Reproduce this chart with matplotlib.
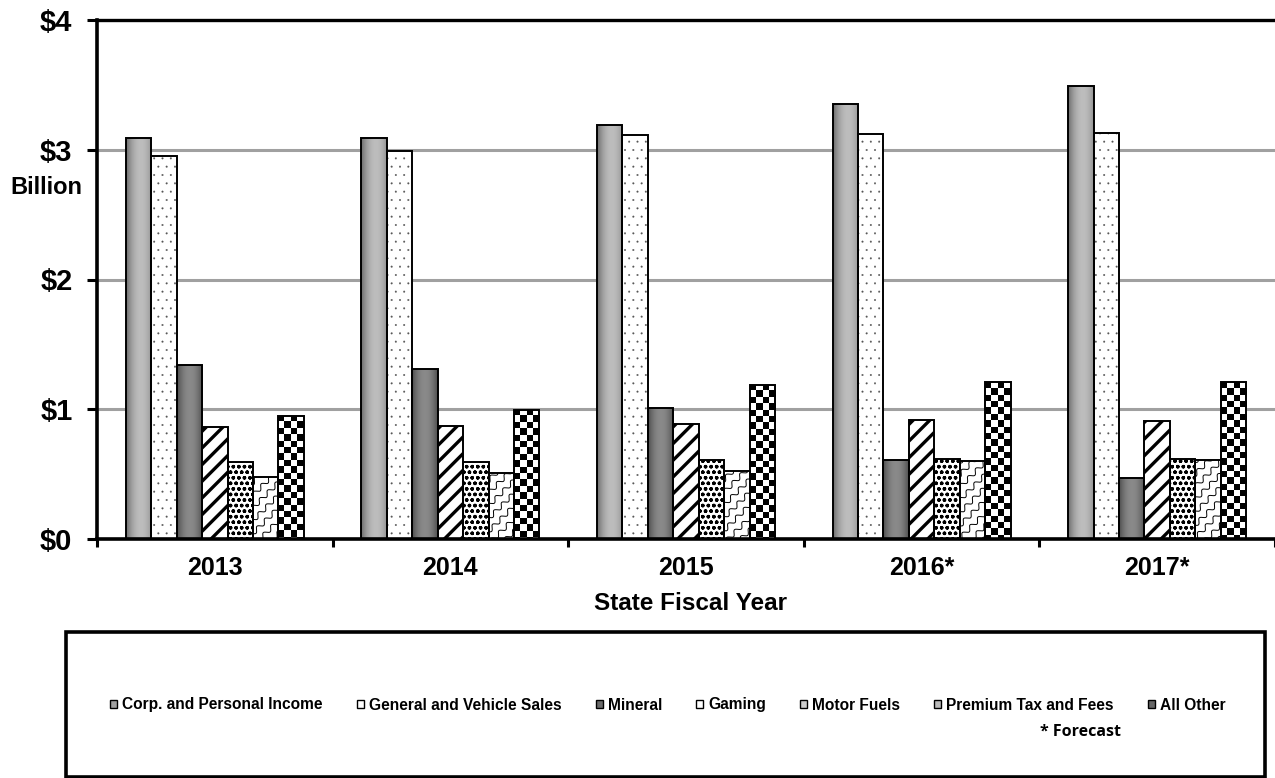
import numpy as np
import matplotlib
matplotlib.use('Agg')
import matplotlib.pyplot as plt
from matplotlib.patches import Patch, Rectangle

# ---------------- data ----------------
years = ['2013', '2014', '2015', '2016*', '2017*']
series_names = ['Corp. and Personal Income', 'General and Vehicle Sales', 'Mineral',
                'Gaming', 'Motor Fuels', 'Premium Tax and Fees', 'All Other']
corp = [3.09, 3.09, 3.19, 3.35, 3.49]
sales = [2.95, 2.99, 3.11, 3.12, 3.13]
mineral = [1.34, 1.31, 1.01, 0.61, 0.47]
gaming = [0.86, 0.87, 0.89, 0.92, 0.91]
motor = [0.595, 0.595, 0.61, 0.62, 0.62]
premium = [0.48, 0.51, 0.525, 0.60, 0.61]
other = [0.95, 0.995, 1.19, 1.21, 1.21]
ytick_vals = [0, 1, 2, 3, 4]
ytick_labels = ['\\$0', '\\$1', '\\$2', '\\$3', '\\$4']
y_unit = 'Billion'
x_title = 'State Fiscal Year'
note = '* Forecast'

series_vals = [corp, sales, mineral, gaming, motor, premium, other]

plt.rcParams['font.family'] = ['Liberation Sans', 'DejaVu Sans']
plt.rcParams['font.weight'] = 'bold'
plt.rcParams['hatch.linewidth'] = 2.4

W, H = 1275, 778
fig = plt.figure(figsize=(W / 100, H / 100), dpi=100)
ax_l, ax_r, ax_t, ax_b = 97, 1275, 20, 539
ax = fig.add_axes([ax_l / W, 1 - ax_b / H, (ax_r - ax_l) / W, (ax_b - ax_t) / H])
XPX = (ax_r - ax_l) / 5.0
YPX = (ax_b - ax_t) / 4.0

x = np.arange(len(years))
bw = 0.108
n = len(series_vals)


def grad_row(lo, hi, peak):
    t = np.linspace(0, 1, 80)
    span = max(peak, 1 - peak)
    return (hi - (hi - lo) * ((t - peak) / span) ** 2)[None, :]


def outline(xs, vals):
    ax.bar(xs, vals, bw, facecolor='none', edgecolor='black', linewidth=1.4, zorder=6)


for i, vals in enumerate(series_vals):
    xs = x + (i - (n - 1) / 2) * bw
    if i in (0, 2):
        bars = ax.bar(xs, vals, bw, facecolor='#999999', edgecolor='none', zorder=3)
        lo, hi, pk = (0.42, 0.74, 0.58) if i == 0 else (0.30, 0.54, 0.5)
        for b in bars:
            x0 = b.get_x(); h = b.get_height()
            im = ax.imshow(grad_row(lo, hi, pk), extent=[x0, x0 + bw, 0, h], cmap='gray',
                           vmin=0, vmax=1, aspect='auto', interpolation='bilinear', zorder=4)
            im.set_clip_path(b)
    elif i == 1:
        bars = ax.bar(xs, vals, bw, facecolor='white', edgecolor='#555555', linewidth=0,
                      hatch='..', zorder=3)
        for b in bars:
            if hasattr(b, 'set_hatch_linewidth'):
                b.set_hatch_linewidth(0.2)
    elif i == 3:
        bars = ax.bar(xs, vals, bw, facecolor='white', edgecolor='black', linewidth=0,
                      hatch='//', zorder=3)
    elif i == 4:
        bars = ax.bar(xs, vals, bw, facecolor='white', edgecolor='black', linewidth=0,
                      hatch='ooo', zorder=3)
        for b in bars:
            if hasattr(b, 'set_hatch_linewidth'):
                b.set_hatch_linewidth(1.0)
    elif i == 5:
        bars = ax.bar(xs, vals, bw, facecolor='white', edgecolor='none', zorder=3)
        for b in bars:
            x0 = b.get_x(); h = b.get_height()
            cxp = (x0 + bw / 2) * XPX
            cyp = h / 2 * YPX
            L = (bw * XPX + h * YPX)
            u = np.array([1.0, 1.0]) / np.sqrt(2)
            nn = np.array([-1.0, 1.0]) / np.sqrt(2)
            s = np.linspace(-L, L, 600)
            sp, A, P = 9.0, 2.2, 11.0
            for k in np.arange(-int(L / sp) - 1, int(L / sp) + 2):
                off = k * sp + A * np.sin(2 * np.pi * s / P)
                px = cxp + s * u[0] + off * nn[0]
                py = cyp + s * u[1] + off * nn[1]
                ln, = ax.plot(px / XPX, py / YPX, color='black', lw=0.7, zorder=4)
                ln.set_clip_path(b)
    else:
        bars = ax.bar(xs, vals, bw, facecolor='white', edgecolor='none', zorder=3)
        sq = bw * XPX / 4.0
        for b in bars:
            x0 = b.get_x(); h = b.get_height()
            nr = int(np.ceil(h * YPX / sq))
            arr = (np.indices((nr, 4)).sum(axis=0) % 2).astype(float)
            im = ax.imshow(arr, extent=[x0, x0 + bw, h - nr * sq / YPX, h], cmap='gray',
                           vmin=0, vmax=1, aspect='auto', interpolation='nearest',
                           origin='upper', zorder=4)
            im.set_clip_path(b)
    outline(xs, vals)

ax.set_xlim(-0.5, 4.5)
ax.set_ylim(0, 4)

ax.spines['right'].set_visible(False)
ax.spines['left'].set_linewidth(2.6)
ax.spines['bottom'].set_linewidth(2.6)
ax.spines['top'].set_linewidth(2.4)
for s_ in ax.spines.values():
    s_.set_zorder(7)

ax.yaxis.grid(True, color='#a0a0a0', linewidth=2.2)
ax.set_axisbelow(True)

ax.set_yticks(ytick_vals)
ax.set_yticklabels(ytick_labels, fontsize=21, fontweight='bold')
ax.tick_params(axis='y', length=7.2, width=2.2, pad=10.5, direction='out')

ax.set_xticks([-0.5, 0.5, 1.5, 2.5, 3.5, 4.5])
ax.tick_params(axis='x', which='major', length=6, width=2.2, direction='out', labelbottom=False)
ax.set_xticks(x, minor=True)
ax.set_xticklabels(years, minor=True, fontsize=18, fontweight='bold')
ax.tick_params(axis='x', which='minor', length=0, pad=12)

fig.text(46 / W, 1 - 188 / H, y_unit, ha='center', va='center', fontsize=17, fontweight='bold')
fig.text(690 / W, 1 - 604 / H, x_title, ha='center', va='center', fontsize=17.5, fontweight='bold')

# legend box
fig.add_artist(Rectangle((66 / W, 1 - 777 / H), (1265 - 66) / W, (777 - 632) / H,
                         transform=fig.transFigure, fill=False, lw=2.6, ec='black'))

handles = [
    Patch(facecolor='#a0a0a0', edgecolor='black', lw=1.0),
    Patch(facecolor='white', edgecolor='black', lw=1.0),
    Patch(facecolor='#6a6a6a', edgecolor='black', lw=1.0),
    Patch(facecolor='white', edgecolor='black', lw=1.0),
    Patch(facecolor='#cccccc', edgecolor='black', lw=1.0),
    Patch(facecolor='#bbbbbb', edgecolor='black', lw=1.0),
    Patch(facecolor='#666666', edgecolor='black', lw=1.0),
]
fig.legend(handles, series_names, loc='center', bbox_to_anchor=(668 / W, 1 - 705 / H),
           ncol=7, frameon=False, handlelength=0.45, handleheight=0.45,
           handletextpad=0.32, columnspacing=2.2, prop={'weight': 'bold', 'size': 11.2})

fig.text(1081 / W, 1 - 732 / H, note, ha='center', va='center', fontsize=11.5,
         fontweight='bold', family=['Open Sans', 'DejaVu Sans'])

fig.savefig('out.png', dpi=100)
